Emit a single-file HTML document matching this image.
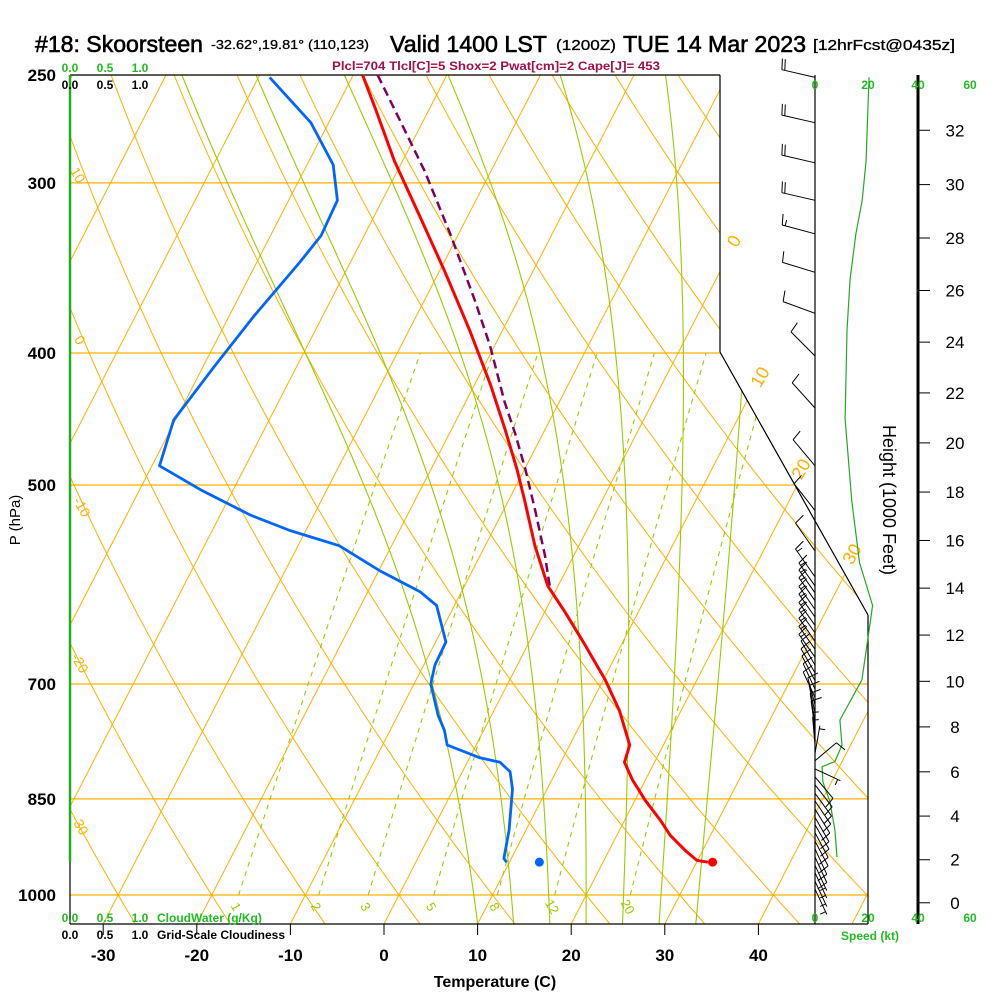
<!DOCTYPE html>
<html><head><meta charset="utf-8"><title>Skew-T Skoorsteen</title>
<style>
html,body{margin:0;padding:0;background:#fff;}
svg{display:block;font-family:"Liberation Sans",Arial,sans-serif;}
</style></head>
<body>
<svg id="chart" width="1000" height="1000" viewBox="0 0 1000 1000" xmlns="http://www.w3.org/2000/svg">
<defs>
<clipPath id="gridClip"><polygon points="70,75 720,75 720,352 868,615 868,924 70,924"/></clipPath>
</defs>
<rect x="0" y="0" width="1000" height="1000" fill="#fff"/>
<g>
<text x="35" y="52" font-size="23" stroke="#000" stroke-width="0.6" textLength="168" lengthAdjust="spacingAndGlyphs">#18: Skoorsteen</text>
<text x="211" y="49" font-size="13" stroke="#000" stroke-width="0.3" textLength="158" lengthAdjust="spacingAndGlyphs">-32.62°,19.81° (110,123)</text>
<text x="390" y="52" font-size="23" stroke="#000" stroke-width="0.6" textLength="157" lengthAdjust="spacingAndGlyphs">Valid 1400 LST</text>
<text x="556" y="50" font-size="15" stroke="#000" stroke-width="0.3" textLength="60" lengthAdjust="spacingAndGlyphs">(1200Z)</text>
<text x="623" y="52" font-size="23" stroke="#000" stroke-width="0.6" textLength="183" lengthAdjust="spacingAndGlyphs">TUE 14 Mar 2023</text>
<text x="813" y="50" font-size="15" stroke="#000" stroke-width="0.3" textLength="142" lengthAdjust="spacingAndGlyphs">[12hrFcst@0435z]</text>
<text x="332" y="70" font-size="12" font-weight="bold" fill="#a0104a" textLength="328" lengthAdjust="spacingAndGlyphs">Plcl=704 Tlcl[C]=5 Shox=2 Pwat[cm]=2 Cape[J]= 453</text>
</g>
<g id="grid" clip-path="url(#gridClip)"></g>
<g id="gridLabels"></g>
<g id="frame"></g>
<g id="series"></g>
<g id="winds"></g>
<g id="axes"></g>
</svg>
<script>
// ---- sounding data ----
const tempP = [250,265,289,317,348,385,422,455,487,513,554,593,620,655,695,732,776,799,823,852,881,904,927,943,946];
const tempC = [-49,-45.7,-40.9,-35.2,-29.5,-23.5,-18.3,-14.3,-10.8,-8.3,-4.7,-1.1,2.2,6.1,10.2,13.4,16.4,16.8,18.6,21.1,23.8,25.7,28.1,29.9,31.2];
const dewP = [251,271,291,309,328,343,375,409,448,484,504,526,540,554,578,599,613,652,678,700,738,757,776,793,799,812,836,896,940,946];
const dewC = [-58.8,-51.9,-47.2,-44.8,-44.6,-45.4,-47.3,-48.8,-50.2,-49.2,-43.5,-36.8,-31.7,-25.6,-19.9,-14.4,-11.9,-8.9,-8.8,-8.2,-5.7,-4.2,-3.1,1.1,3.5,5.1,6.3,8.2,9.2,9.7];
const parcelP = [250,270,294,327,366,395,434,459,487,522,563,593];
const parcelC = [-47.4,-42.5,-37.1,-30.9,-24.6,-20.5,-15.9,-12.9,-9.9,-6.6,-3.1,-0.9];
const sfcP = 946;
const sfcT = 31.7;
const sfcTd = 13.2;
// wind barbs
const barbP = [251,271,290,309,327,349,374,402,439,484,522,559,584,593,600,608,617,625,634,642,651,660,669,678,687,696,706,716,725,735,745,755,766,776,787,797,808,819,830,842,853,865,877,888,900,913,925,938,951,963,977,990];
const barbDir = [283,283,283,283,285,287,290,315,318,320,322,325,325,325,325,325,325,325,325,325,325,325,325,330,330,332,335,335,345,348,350,352,355,355,10,50,115,140,142,144,146,148,150,150,152,152,155,155,155,155,155,155];
const barbSpd = [20,20,20,20,15,10,10,10,10,10,12,12,15,15,15,15,15,15,15,15,15,15,15,12,10,10,10,10,8,8,8,8,5,5,3,12,5,12,12,12,10,10,10,10,8,8,8,8,5,5,5,5];
// wind speed profile
const spdP = [251,289,309,327,353,385,447,513,570,613,652,695,744,776,798,805,826,854,896,938];
const spdKt = [20.6,19.5,18,15.6,13.4,12.2,11.5,14,17,22,20,17.9,9.5,10.3,7.6,2.7,3,5.7,7.6,8.4];
// grid definitions
const isotherms = [-120,-110,-100,-90,-80,-70,-60,-50,-40,-30,-20,-10,0,10,20,30,40,50];
const dryAdiabats = [-40,-30,-20,-10,0,10,20,30,40,50,60,70,80,90,100,110,120,130,140,150,160];
const moistAdiabats = [8,12,16,20,24,28,32];
const mixRatios = [1,2,3,5,8,12,20];
const isobars = [250,300,400,500,700,850,1000];
const tempTicks = [-30,-20,-10,0,10,20,30,40];
const heightTicks = [0,2,4,6,8,10,12,14,16,18,20,22,24,26,28,30,32];

const NS = "http://www.w3.org/2000/svg";
const X0 = 384, DX = 9.36, K = 0.515, YB = 924;
function yP(p){ return 75 + Math.log(p/250)/Math.log(4)*820; }
function pY(y){ return 250*Math.pow(4,(y-75)/820); }
function xT(T,p){ return X0 + DX*T + (YB - yP(p))*K; }
function spdX(s){ return 815 + s*2.62; }
function mk(tag, attrs, parent){
  const e = document.createElementNS(NS, tag);
  for (const k in attrs) e.setAttribute(k, attrs[k]);
  parent.appendChild(e);
  return e;
}
function pathFrom(pts){ return pts.map((q,i)=>(i?'L':'M')+q[0].toFixed(1)+','+q[1].toFixed(1)).join(''); }
const ORANGE = "#ffb000", GREEN = "#99cc00";
const grid = document.getElementById('grid');
const gl = document.getElementById('gridLabels');
const PBOT = pY(YB);

isobars.forEach(p=>{
  const e = mk('line',{x1:70,x2:868,y1:yP(p),y2:yP(p),stroke:ORANGE,'stroke-width':1.2},grid);
  
  
});
isotherms.forEach(T=>{
  const e = mk('line',{x1:xT(T,PBOT),y1:YB,x2:xT(T,250),y2:75,stroke:ORANGE,'stroke-width':1},grid);
  
  
});
dryAdiabats.forEach(th=>{
  const pts=[];
  for(let p=PBOT;p>=245;p-=10){ const T=(th+273.15)*Math.pow(p/1000,0.2857)-273.15; pts.push([xT(T,p),yP(p)]); }
  const e = mk('path',{d:pathFrom(pts),fill:'none',stroke:ORANGE,'stroke-width':1},grid);
  
  
});
function es(T){ return 6.112*Math.exp(17.67*T/(T+243.5)); }
const LV = 2.5e6*1.1;
function dTdp(T,p){
  const Tk=T+273.15, e=es(T), rs=0.622*e/(p-e);
  return (287*Tk + LV*rs)/(p*(1005 + LV*LV*rs*0.622/(287*Tk*Tk)));
}
moistAdiabats.forEach(tw=>{
  let T=tw, p=1000;
  const up=[[xT(T,p),yP(p)]];
  while(p>245){ const h=-2; T+=dTdp(T,p)*h; p+=h; up.push([xT(T,p),yP(p)]); }
  T=tw; p=1000; const dn=[];
  while(p<PBOT){ const h=2; T+=dTdp(T,p)*h; p+=h; dn.push([xT(T,p),yP(p)]); }
  const pts=dn.reverse().concat(up);
  const e = mk('path',{d:pathFrom(pts),fill:'none',stroke:GREEN,'stroke-width':1.1},grid);
  
  
});
mixRatios.forEach(w=>{
  const pts=[];
  for(let p=1000;p>=400;p-=10){ const e=p*w/(622+w); const L=Math.log(e/6.112); const T=243.5*L/(17.67-L); pts.push([xT(T,p),yP(p)]); }
  const e = mk('path',{d:pathFrom(pts),fill:'none',stroke:GREEN,'stroke-width':1.1,'stroke-dasharray':'5,5'},grid);
  
  
  const p=1000, ev=p*w/(622+w), L=Math.log(ev/6.112), T=243.5*L/(17.67-L);
  const x=xT(T,p)-3, y=911;
  const t = mk('text',{x:x,y:y,'font-size':13,fill:GREEN,'text-anchor':'middle',transform:'rotate(60 '+x+' '+(y-4)+')'},gl);
  t.textContent=String(w);
  
  
});
[[10,78,180],[0,80,345],[-10,82,512],[-20,80,668],[-30,80,830]].forEach(a=>{
  const t = mk('text',{x:a[1],y:a[2],'font-size':14,fill:ORANGE,'text-anchor':'middle',transform:'rotate(60 '+a[1]+' '+(a[2]-5)+')'},gl);
  t.textContent=String(a[0]);
  
  
});
[[0,734,247],[10,760,383],[20,801,475],[30,852,560]].forEach(a=>{
  const t = mk('text',{x:a[1],y:a[2],'font-size':18,fill:ORANGE,'text-anchor':'middle',transform:'rotate(-60 '+a[1]+' '+(a[2]-6)+')'},gl);
  t.textContent=String(a[0]);
  
  
});

const fr = document.getElementById('frame');
[[70,75,720,75],[720,75,720,352],[720,352,868,615],[868,615,868,924],[70,924,868,924],[815,75,815,924],[70,862,70,924]].forEach((l,i)=>{
  const e = mk('line',{x1:l[0],y1:l[1],x2:l[2],y2:l[3],stroke:'#000','stroke-width':1.2},fr);
  
  
});
const cw = mk('line',{x1:70,y1:75,x2:70,y2:862,stroke:'#22aa22','stroke-width':2.5},fr);


const ha = mk('line',{x1:918,y1:75,x2:918,y2:924,stroke:'#000','stroke-width':3},fr);



const sr = document.getElementById('series');
function seriesPath(P,T,color,w,dash,name){
  const pts=P.map((p,i)=>[xT(T[i],p),yP(p)]);
  const a={d:pathFrom(pts),fill:'none',stroke:color,'stroke-width':w,'stroke-linejoin':'round'};
  if(dash) a['stroke-dasharray']=dash;
  const e=mk('path',a,sr);
  
  
}
seriesPath(parcelP,parcelC,'#800060',2.5,'9,5','parcel-path');
seriesPath(dewP,dewC,'#0066ff',2.8,null,'dewpoint-line');
seriesPath(tempP,tempC,'#ff0000',3,null,'temperature-line');
const d1 = mk('circle',{cx:xT(sfcT,sfcP),cy:yP(sfcP),r:4.5,fill:'#ff0000'},sr);


const d2 = mk('circle',{cx:xT(sfcTd,sfcP),cy:yP(sfcP),r:4.5,fill:'#0066ff'},sr);


const sp = mk('path',{d:pathFrom(spdP.map((p,i)=>[spdX(spdKt[i]),yP(p)])),fill:'none',stroke:'#22aa22','stroke-width':1.2},sr);



const wb = document.getElementById('winds');
barbP.forEach((p,i)=>{
  const by=yP(p), bx=815, L = p<590 ? 34 : 28;
  const r=barbDir[i]*Math.PI/180, ux=Math.sin(r), uy=-Math.cos(r);
  const tx=bx+ux*L, ty=by+uy*L;
  let d='M'+bx+','+by.toFixed(1)+'L'+tx.toFixed(1)+','+ty.toFixed(1);
  const fx=-uy, fy=ux;
  let s=barbSpd[i], k=0;
  while(s>=7.5){ const sx=tx-ux*k*3, sy=ty-uy*k*3; d+='M'+sx.toFixed(1)+','+sy.toFixed(1)+'l'+(fx*11+ux*2).toFixed(1)+','+(fy*11+uy*2).toFixed(1); s-=10; k++; }
  if(s>=2.5){ const sx=tx-ux*(k*3+ (k?0:3)), sy=ty-uy*(k*3+(k?0:3)); d+='M'+sx.toFixed(1)+','+sy.toFixed(1)+'l'+(fx*6).toFixed(1)+','+(fy*6).toFixed(1); }
  const e = mk('path',{d:d,fill:'none',stroke:'#000','stroke-width':1},wb);
  
  
});

const ax = document.getElementById('axes');
function txt(x,y,s,attrs,name){
  const a=Object.assign({x:x,y:y},attrs);
  const t=mk('text',a,ax);
  t.textContent=s;
  
  
  return t;
}
isobars.forEach(p=>{
  txt(56,yP(p)+6,String(p),{'font-size':17,'font-weight':'bold','text-anchor':'end'},'pressure-label-'+p);
});
tempTicks.forEach(T=>{
  const x=X0+DX*T;
  const l=mk('line',{x1:x,y1:924,x2:x,y2:935,stroke:'#000','stroke-width':1},ax);
  
  
  txt(x,961,String(T),{'font-size':17,'font-weight':'bold','text-anchor':'middle'},'temp-tick-label-'+T);
});
heightTicks.forEach(h=>{
  const p=1013.25*Math.pow(1-6.8756e-6*h*1000,5.2559);
  const y=yP(p);
  const l=mk('line',{x1:918,y1:y,x2:930,y2:y,stroke:'#000','stroke-width':1},ax);
  
  
  txt(955,y+6,String(h),{'font-size':17,'text-anchor':'middle'},'height-tick-label-'+h);
});
txt(495,987,'Temperature (C)',{'font-size':16,'font-weight':'bold','text-anchor':'middle'},'x-axis-title');
txt(20,520,'P (hPa)',{'font-size':15,'text-anchor':'middle',transform:'rotate(-90 20 520)'},'y-axis-title');
txt(883,500,'Height (1000 Feet)',{'font-size':18,'text-anchor':'middle',transform:'rotate(90 883 500)'},'height-axis-title');
[['0.0',70],['0.5',105],['1.0',140]].forEach((a,i)=>{
  txt(a[1],72,a[0],{'font-size':12,'font-weight':'bold',fill:'#22bb22','text-anchor':'middle'},'cloudwater-top-label-'+i);
  txt(a[1],89,a[0],{'font-size':12,'font-weight':'bold','text-anchor':'middle'},'cloudiness-top-label-'+i);
  txt(a[1],922,a[0],{'font-size':12,'font-weight':'bold',fill:'#22bb22','text-anchor':'middle'},'cloudwater-bottom-label-'+i);
  txt(a[1],939,a[0],{'font-size':12,'font-weight':'bold','text-anchor':'middle'},'cloudiness-bottom-label-'+i);
});
txt(157,922,'CloudWater (g/Kg)',{'font-size':12,'font-weight':'bold',fill:'#22bb22'},'cloudwater-title');
txt(157,939,'Grid-Scale Cloudiness',{'font-size':12,'font-weight':'bold'},'cloudiness-title');
[['0',815],['20',868],['40',918],['60',970]].forEach((a,i)=>{
  txt(a[1],89,a[0],{'font-size':12,'font-weight':'bold',fill:'#22bb22','text-anchor':'middle'},'speed-top-label-'+i);
  txt(a[1],922,a[0],{'font-size':12,'font-weight':'bold',fill:'#22bb22','text-anchor':'middle'},'speed-bottom-label-'+i);
});
txt(870,940,'Speed (kt)',{'font-size':12,'font-weight':'bold',fill:'#22bb22','text-anchor':'middle'},'speed-axis-title');
</script>
</body></html>
